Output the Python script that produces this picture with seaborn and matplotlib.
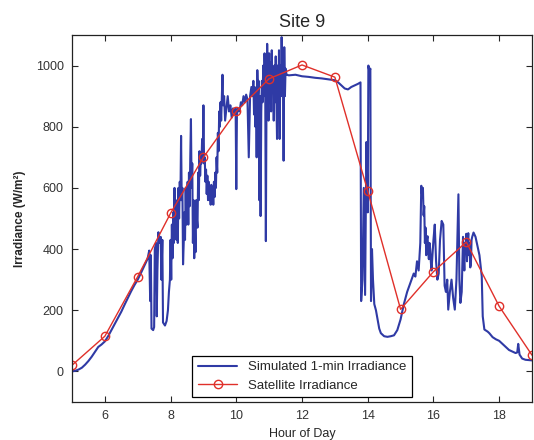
import pandas as pd
import matplotlib
import matplotlib.pyplot as plt
matplotlib.use("Agg")
import seaborn as sns

# simulated 1-min irradiance (hour of day / W/m2)
sim_hour = [5.00, 5.10, 5.20, 5.30, 5.40, 5.50, 5.60, 5.70, 5.80, 5.90,
            6.00, 6.10, 6.20, 6.30, 6.40, 6.50, 6.60, 6.70, 6.80, 6.90,
            7.00, 7.10, 7.20, 7.30, 7.35, 7.38, 7.40, 7.42, 7.47, 7.50,
            7.52, 7.56, 7.58, 7.60, 7.63, 7.66, 7.70, 7.72, 7.75, 7.77,
            7.83, 7.88, 7.92, 7.95, 7.98,
            8.00, 8.02, 8.04, 8.06, 8.08, 8.10, 8.12, 8.14, 8.16, 8.18,
            8.20, 8.22, 8.24, 8.26, 8.28, 8.30, 8.32, 8.34, 8.36, 8.38,
            8.40, 8.42, 8.44, 8.46, 8.48, 8.50, 8.52, 8.54, 8.56, 8.58,
            8.60, 8.62, 8.64, 8.66, 8.68, 8.70, 8.72, 8.74, 8.76, 8.78,
            8.80, 8.82, 8.84, 8.86, 8.88, 8.90, 8.92, 8.94, 8.96, 8.98,
            9.00, 9.02, 9.04, 9.06, 9.08, 9.10, 9.12, 9.14, 9.16, 9.18,
            9.20, 9.22, 9.24, 9.26, 9.28, 9.30, 9.32, 9.34, 9.36, 9.38,
            9.40, 9.42, 9.44, 9.46, 9.48, 9.50, 9.52, 9.54, 9.56, 9.58,
            9.60, 9.63, 9.66, 9.70, 9.74, 9.78, 9.82, 9.86, 9.90, 9.94,
            9.98, 10.00, 10.02, 10.06, 10.10, 10.14, 10.18, 10.22, 10.26, 10.30,
            10.34, 10.38, 10.42, 10.46,
            10.50, 10.52, 10.54, 10.56, 10.58, 10.60, 10.62, 10.64, 10.66, 10.68,
            10.70, 10.72, 10.74, 10.76, 10.78, 10.80, 10.82, 10.84, 10.86, 10.88,
            10.90, 10.92, 10.94, 10.96, 10.98, 11.00, 11.02, 11.04, 11.06, 11.08,
            11.10, 11.12, 11.14, 11.16, 11.18, 11.20, 11.22, 11.24, 11.26, 11.28,
            11.30, 11.32, 11.34, 11.36, 11.38, 11.40, 11.42, 11.44, 11.46, 11.48,
            11.50, 11.53, 11.60, 11.80, 12.00, 12.20, 12.40, 12.60, 12.80,
            13.00, 13.10, 13.20, 13.30, 13.40, 13.50, 13.60, 13.70, 13.78, 13.80,
            13.84, 13.88, 13.92, 13.96, 14.00, 14.02, 14.05, 14.08, 14.10, 14.13,
            14.16, 14.20, 14.25, 14.30, 14.35, 14.40, 14.50, 14.60, 14.70, 14.80,
            14.90, 15.00, 15.10, 15.20, 15.30, 15.40, 15.45, 15.50, 15.55, 15.60,
            15.63, 15.66, 15.68, 15.70, 15.72, 15.74, 15.76, 15.78, 15.80, 15.82,
            15.84, 15.86, 15.88, 15.90, 15.92, 15.94, 15.97, 16.00,
            16.04, 16.08, 16.12, 16.16, 16.20, 16.25, 16.30, 16.34, 16.38, 16.42,
            16.45, 16.50, 16.55, 16.60, 16.65, 16.70, 16.76, 16.79, 16.82, 16.86,
            16.90, 16.92, 16.94, 16.96, 16.98, 17.00, 17.02, 17.04, 17.06, 17.08,
            17.10, 17.12, 17.14, 17.16, 17.18, 17.22, 17.28,
            17.34, 17.40, 17.44, 17.47, 17.50, 17.55, 17.65, 17.70, 17.80, 17.90,
            18.00, 18.10, 18.20, 18.30, 18.40, 18.50, 18.55, 18.58, 18.62, 18.70,
            18.80, 19.00]
sim_value = [0, 2, 6, 12, 22, 34, 48, 64, 80, 88,
             98, 115, 135, 155, 175, 195, 218, 240, 262, 282,
             300, 322, 345, 368, 395, 230, 380, 140, 135, 145,
             400, 420, 180, 330, 455, 420, 440, 300, 430, 160,
             150, 165, 200, 260, 300,
             430, 300, 480, 370, 520, 420, 600, 460, 560, 430,
             540, 420, 600, 500, 620, 560, 770, 560, 600, 350,
             420, 520, 430, 600, 480, 560, 620, 480, 650, 540,
             700, 825, 600, 680, 420, 560, 370, 480, 390, 560,
             500, 470, 650, 560, 720, 640, 700, 680, 760, 700,
             870, 680, 700, 620, 660, 580, 640, 560, 620, 560,
             600, 545, 610, 560, 600, 545, 620, 570, 650, 600,
             700, 650, 780, 720, 850, 800, 880, 820, 900, 970,
             870, 900, 820, 860, 900, 850, 870, 830, 860, 845,
             860, 596, 840, 860, 850, 880, 870, 900, 880, 905,
             890, 700, 900, 930,
             900, 950, 840, 930, 800, 920, 700, 985, 900, 950,
             560, 900, 508, 850, 950, 880, 1000, 900, 1040, 950,
             426, 900, 1071, 960, 820, 1040, 880, 1010, 850, 1050,
             920, 980, 820, 1000, 880, 1030, 900, 760, 1000, 880,
             1050, 760, 1000, 900, 1093, 950, 1000, 689, 1060, 900,
             990, 970, 968, 970, 965, 963, 960, 958, 955,
             952, 945, 935, 925, 922, 930, 935, 940, 945, 230,
             300, 600, 250, 750, 520, 1000, 980, 990, 230, 400,
             300, 220, 200, 170, 140, 125, 115, 113, 115, 118,
             135, 170, 220, 260, 290, 320, 310, 360, 330, 420,
             607, 570, 600, 510, 540, 420, 470, 380, 430, 442,
             400, 367, 420, 400, 360, 330, 380, 430,
             480, 360, 300, 320, 430, 492, 480, 280, 260, 300,
             202, 260, 300, 240, 202, 300, 579, 300, 224, 260,
             440, 380, 330, 420, 400, 450, 360, 420, 452, 380,
             420, 340, 350, 430, 440, 454, 440,
             410, 380, 340, 311, 180, 137, 130, 125, 112, 105,
             100, 90, 80, 70, 65, 60, 62, 90, 55, 42,
             38, 36]

# satellite irradiance, hourly
sat_hour = [5, 6, 7, 8, 9, 10, 11, 12, 13, 14, 15, 16, 17, 18, 19]
sat_value = [20, 115, 310, 517, 700, 850, 957, 1002, 962, 590, 203, 326, 423, 213, 53]

x_ticks = [6, 8, 10, 12, 14, 16, 18]
y_ticks = [0, 200, 400, 600, 800, 1000]

df_sim = pd.DataFrame({"hour": sim_hour, "irr": sim_value})
df_sat = pd.DataFrame({"hour": sat_hour, "irr": sat_value})

sns.set_theme(style="ticks")
plt.rcParams["font.family"] = ["Liberation Sans", "DejaVu Sans"]

fig = plt.figure(figsize=(5.34, 4.40), dpi=100)
ax = fig.add_axes([0.1348, 0.0864, 0.8615, 0.8341])

sns.lineplot(data=df_sim, x="hour", y="irr", ax=ax, estimator=None, sort=False,
             color="#2f3aa5", linewidth=1.5, label="Simulated 1-min Irradiance")
sns.lineplot(data=df_sat, x="hour", y="irr", ax=ax, estimator=None, sort=False,
             color="#e0302a", linewidth=1.0, marker="o", markersize=6,
             markerfacecolor="none", markeredgecolor="#e0302a", markeredgewidth=1.0,
             label="Satellite Irradiance")

ax.set_xlim(5, 19)
ax.set_ylim(-100, 1100)
ax.set_xticks(x_ticks)
ax.set_yticks(y_ticks)
ax.tick_params(direction="in", top=True, right=True, length=4, width=0.8,
               labelsize=9, labelcolor="#333333", pad=6)
for s in ax.spines.values():
    s.set_color("#222222")
    s.set_linewidth(0.9)

ax.set_title("Site 9", fontsize=13, pad=6)
ax.set_xlabel("Hour of Day", fontsize=9, labelpad=4)
ax.set_ylabel("Irradiance (W/m²)", fontsize=8.5, fontweight="bold", labelpad=7)

leg = ax.legend(loc="lower center", bbox_to_anchor=(0.5, 0.0), fontsize=9.5,
                handlelength=3, fancybox=False, framealpha=1, borderaxespad=0.35)
leg.get_frame().set_edgecolor("black")
leg.get_frame().set_linewidth(0.9)

fig.savefig("out.png", dpi=100)
